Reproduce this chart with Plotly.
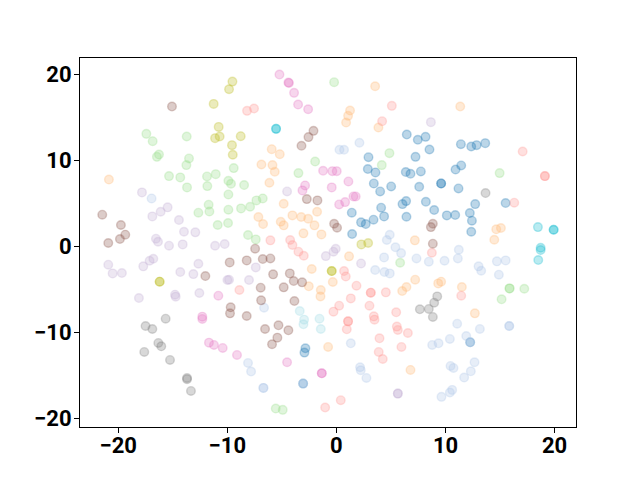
import plotly.graph_objects as go

# Values: each group holds x values and y values
blue_x = [6.45,7.46,8.17,8.53,7.25,11.41,12.36,12.85,13.64,2.94,2.88,3.58,6.36,6.79,7.74,10.92,11.44,3.43,4.01,5.02,7.59,9.60,9.60,11.19,6.39,6.06,8.20,8.96,12.72,15.51,4.10,4.37,6.42,10.12,10.89,12.23,12.42,12.36,1.41,2.26,2.69,3.40,1.44,12.26,-2.84,-2.93,-3.05]
blue_y = [13.01,12.40,12.74,11.27,10.42,11.89,11.62,11.78,12.01,10.38,9.00,8.61,8.65,8.45,8.72,8.95,9.42,7.33,6.40,6.98,6.94,7.33,7.33,6.75,5.28,4.93,5.20,4.24,4.93,5.05,4.51,3.50,3.46,3.62,3.66,3.89,3.00,1.72,3.93,2.81,2.61,3.12,1.45,-11.12,-11.82,-12.32,-15.92]

lightblue_x = [-16.94,-6.63,-8.10,-7.82,-6.69,-6.69,0.28,0.70,2.11,4.89,4.62,5.41,11.22,5.93,4.37,7.34,8.47,9.91,11.13,3.55,4.40,4.89,13.03,13.27,14.71,15.51,14.89,11.07,13.15,15.84,15.84,11.90,10.40,9.36,8.78,1.32,12.66,10.46,10.73,12.32,11.71,2.17,2.23,2.75,10.61,10.40,9.63,12.26,-3.05]
lightblue_y = [5.59,-7.10,-13.52,-14.52,-16.42,-16.42,11.24,11.24,12.05,1.37,0.76,-0.08,-0.37,-0.76,-1.26,-1.38,-1.76,-1.65,-1.38,-2.73,-2.96,-3.12,-2.30,-2.81,-1.72,-1.61,-3.27,-8.96,-9.57,-9.23,-9.23,-10.39,-10.73,-11.24,-11.43,-11.24,-13.44,-13.87,-14.10,-14.49,-15.22,-14.02,-14.37,-15.26,-16.65,-16.96,-17.46,-11.12,-15.92]

orange_x = [-20.85,-5.93,-5.19,-6.87,-5.86,-5.65,-6.14,-4.83,-7.15,-6.72,-4.03,-3.23,-2.59,-1.77,-2.01,-5.10,-4.83,-3.02,-1.37,-2.26,-2.53,-1.43,-1.46,-0.76,-0.33,1.16,3.55,1.25,1.07,0.89,3.85,11.35,7.19,14.65,15.08,14.47,7.22,6.42,6.03,9.60,9.33,11.50,12.69,6.79]
orange_y = [7.79,11.31,10.73,9.53,9.46,8.68,7.41,4.97,3.43,2.61,3.62,3.43,3.23,4.04,2.46,2.88,2.46,1.53,1.41,-2.61,-4.62,-5.05,-5.79,-11.66,-4.12,-1.14,18.62,15.80,15.18,14.41,13.83,16.26,0.72,2.00,2.15,0.79,-3.85,-4.70,-5.17,-4.08,-4.28,-4.70,-7.76,-14.33]

lightgreen_x = [-17.42,-16.84,-13.72,-16.26,-16.45,-13.51,-13.75,-15.34,-14.31,-13.69,-11.86,-11.06,-11.83,-9.41,-9.90,-9.66,-8.46,-9.90,-11.71,-11.64,-12.65,-9.90,-8.74,-7.91,-7.33,-6.75,-10.88,-9.93,-8.10,-7.39,-1.95,-3.48,-0.21,4.86,4.16,14.96,5.84,15.87,15.87,17.22,15.14,-5.56,-4.92]
lightgreen_y = [13.09,12.24,12.78,10.69,10.42,10.23,9.46,8.18,8.03,6.87,8.14,8.41,7.02,9.11,7.64,7.29,7.14,6.05,4.86,4.08,3.93,4.28,4.43,4.62,5.36,5.59,2.50,2.73,1.34,0.83,9.88,8.53,19.09,10.85,9.46,8.53,-1.88,-4.86,-4.86,-4.90,-6.13,-18.82,-18.97]

lightred_x = [-8.19,-7.55,-6.05,-4.24,-4.03,-3.48,-2.99,-8.89,-1.03,5.08,4.19,17.07,19.11,19.11,16.30,8.75,0.70,0.86,1.84,3.15,3.15,4.53,11.44,1.32,3.03,0.25,-0.27,5.48,3.43,3.49,1.07,1.07,0.95,5.54,5.63,6.55,3.95,5.96,3.88,4.25,0.40]
lightred_y = [15.76,16.03,0.72,0.76,0.18,-0.60,-1.07,-5.05,-18.70,16.34,14.56,11.04,8.18,8.18,5.09,-0.72,-2.85,-3.47,-4.55,-5.36,-5.36,-5.32,-5.71,-6.02,-6.87,-6.87,-7.56,-7.64,-8.11,-8.49,-8.69,-8.69,-9.61,-9.30,-9.69,-10.04,-10.66,-11.66,-12.24,-13.06,-17.85]

lightpurple_x = [-17.82,-4.52,-15.47,-16.11,-16.87,-14.43,-13.97,-12.93,-16.54,-16.35,-15.34,-14.09,-11.12,-10.24,-20.91,-20.51,-19.66,-17.70,-17.12,-16.78,-12.65,-14.31,-13.11,-7.39,-9.99,-9.84,-8.01,-0.97,-18.10,-14.79,-14.73,-12.56,8.66,-0.06,-0.27,2.26,5.63,5.63]
lightpurple_y = [6.29,6.40,4.55,4.04,3.50,3.08,1.72,1.65,0.91,0.56,0.10,0.25,0.09,0.29,-2.11,-3.12,-3.08,-2.30,-1.65,-1.42,-2.00,-2.96,-3.20,-2.42,-3.89,-3.85,-3.89,-1.11,-5.98,-5.59,-5.82,-5.40,14.45,-0.26,-0.60,-1.96,-17.08,-17.08]

brown_x = [-15.07,-2.10,-2.56,-3.20,-2.71,-1.74,-21.46,-19.75,-19.35,-19.84,-20.91,-7.45,-0.21,0.06,8.84,8.66,8.84,-9.78,-8.22,-6.75,-6.05,-12.01,-5.80,-4.27,-3.91,-3.14,-6.94,-4.83,-6.90,-3.85,-9.69,-9.75,-8.22,-6.54,-5.31,-4.40,-5.41,-5.90]
brown_y = [16.26,13.44,12.71,11.70,5.51,5.36,3.70,2.50,1.38,0.87,0.41,-0.25,2.65,2.19,2.65,2.26,0.33,-1.84,-1.61,-1.45,-1.38,-3.43,-3.23,-3.12,-4.01,-4.16,-4.78,-4.74,-6.25,-6.33,-7.06,-7.76,-8.07,-9.58,-9.15,-9.73,-10.58,-11.35]

pink_x = [-5.22,-4.40,-4.35,-3.88,-3.51,-2.59,-1.22,-0.37,0.03,1.10,-0.43,0.80,0.25,1.56,1.77,-2.87,-3.11,-10.82,-12.29,-12.29,-11.68,-11.22,-10.42,-9.11,-4.52,-1.34,-1.34]
pink_y = [19.98,19.05,19.00,17.85,16.49,15.95,8.80,8.76,8.76,7.56,6.87,5.16,4.89,5.82,5.82,7.10,6.52,-5.71,-8.14,-8.41,-11.16,-11.43,-11.78,-12.59,-13.44,-14.72,-14.72]

gray_x = [13.67,-15.65,-17.49,-16.87,-16.32,-16.05,-17.61,-15.25,-13.69,-13.69,-13.33,9.24,8.96,8.47,7.65,8.84]
gray_y = [6.21,-8.38,-9.23,-9.58,-11.20,-11.59,-12.24,-13.17,-15.26,-15.40,-16.77,-5.79,-6.52,-7.25,-7.29,-8.18]

olive_x = [-9.53,-9.84,-11.25,-10.79,-11.12,-10.70,-8.77,-9.57,-9.50,2.29,2.91,-16.20,-16.20,-0.43,-0.43]
olive_y = [19.16,18.27,16.57,13.90,12.59,12.78,12.82,11.78,10.66,0.25,0.41,-4.08,-4.08,-2.85,-2.85]

cyan_x = [-5.53,-5.53,18.47,19.91,19.91,18.72,18.72,18.50]
cyan_y = [13.67,13.67,2.26,1.95,1.95,-0.14,-0.41,-1.57]

lightcyan_x = [-3.36,-2.96,-3.02,-1.55,-1.43]
lightcyan_y = [-7.49,-8.49,-9.03,-8.38,-9.58]

groups = [
    (blue_x, blue_y, (31, 119, 180)),
    (lightblue_x, lightblue_y, (174, 199, 232)),
    (orange_x, orange_y, (255, 187, 120)),
    (lightgreen_x, lightgreen_y, (152, 223, 138)),
    (lightred_x, lightred_y, (255, 152, 150)),
    (lightpurple_x, lightpurple_y, (197, 176, 213)),
    (brown_x, brown_y, (140, 86, 75)),
    (pink_x, pink_y, (227, 119, 194)),
    (gray_x, gray_y, (127, 127, 127)),
    (olive_x, olive_y, (188, 189, 34)),
    (cyan_x, cyan_y, (23, 190, 207)),
    (lightcyan_x, lightcyan_y, (158, 218, 229)),
]
tick_vals = [-20, -10, 0, 10, 20]
ALPHA = 0.3

fig = go.Figure()
for xs, ys, (r, g, b) in groups:
    rgba = f"rgba({r},{g},{b},{ALPHA})"
    fig.add_trace(go.Scatter(
        x=xs, y=ys, mode="markers",
        marker=dict(size=8.6, color=rgba, line=dict(width=1.4, color=rgba)),
    ))

axis = dict(
    tickvals=tick_vals, ticks="outside", ticklen=5, tickwidth=1.1, tickcolor="black",
    showline=True, linecolor="black", linewidth=1.1, mirror=True,
    showgrid=False, zeroline=False,
    tickfont=dict(family="Roboto", size=22, color="black", weight="bold"),
)
# the page adds an 8 px margin at the top and left, so the figure is 632x472
fig.update_layout(
    width=632, height=472, showlegend=False,
    margin=dict(l=72, r=64, t=50, b=53, pad=0),
    paper_bgcolor="white", plot_bgcolor="white",
    xaxis=dict(range=[-23.5, 21.96], ticklabelstandoff=-6, **axis),
    yaxis=dict(range=[-20.96, 21.9], ticklabelstandoff=-2, **axis),
)
fig.write_html("out.html", config={"displayModeBar": False})
